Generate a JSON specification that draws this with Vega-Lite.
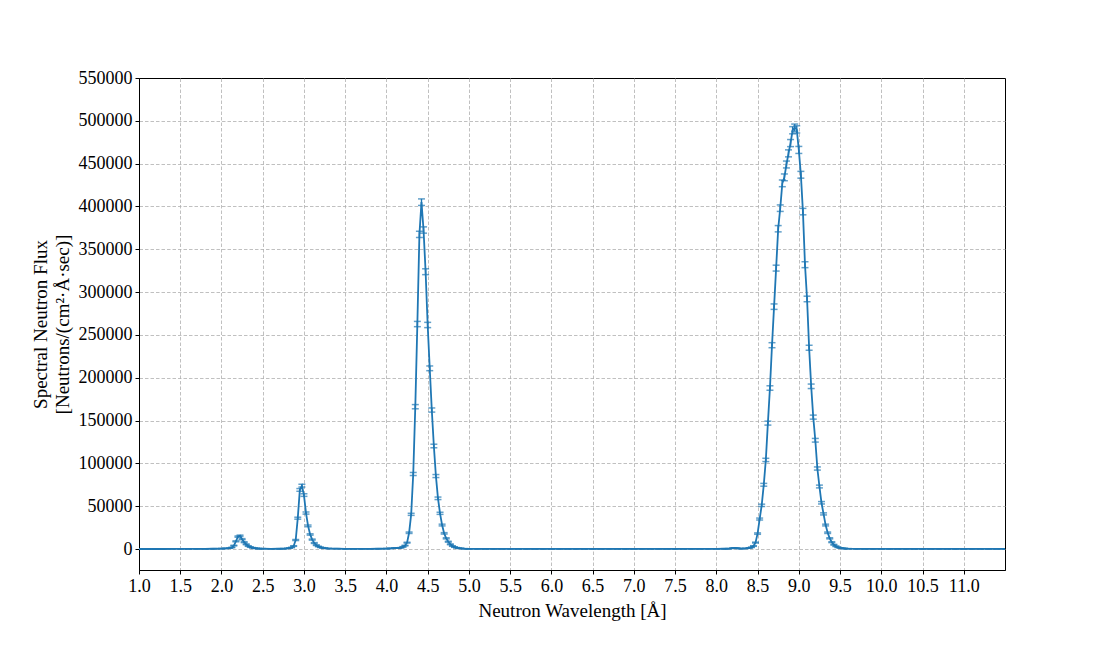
{
  "$schema": "https://vega.github.io/schema/vega-lite/v6.json",
  "width": 866,
  "height": 492,
  "autosize": "none",
  "padding": {"left": 139, "top": 78, "right": 113, "bottom": 82},
  "background": "white",
  "config": {
    "view": {"stroke": "black", "strokeWidth": 1},
    "font": "Liberation Serif",
    "axis": {
      "labelFont": "Liberation Serif",
      "titleFont": "Liberation Serif",
      "labelFontSize": 18,
      "titleFontSize": 19,
      "labelColor": "black",
      "titleColor": "black",
      "titleFontWeight": "normal",
      "tickColor": "black",
      "domainColor": "black",
      "tickSize": 4,
      "labelPadding": 3,
      "gridColor": "#b0b0b0",
      "gridDash": [3.5, 2],
      "gridWidth": 0.8
    }
  },
  "data": {
    "values": [
      {"wl": 1.0, "flux": 20, "err": 27},
      {"wl": 1.1, "flux": 30, "err": 33},
      {"wl": 1.2, "flux": 40, "err": 38},
      {"wl": 1.3, "flux": 50, "err": 42},
      {"wl": 1.4, "flux": 60, "err": 46},
      {"wl": 1.5, "flux": 80, "err": 54},
      {"wl": 1.6, "flux": 100, "err": 60},
      {"wl": 1.7, "flux": 150, "err": 73},
      {"wl": 1.8, "flux": 200, "err": 85},
      {"wl": 1.9, "flux": 300, "err": 104},
      {"wl": 2.0, "flux": 500, "err": 134},
      {"wl": 2.05, "flux": 700, "err": 159},
      {"wl": 2.1, "flux": 1000, "err": 190},
      {"wl": 2.125, "flux": 1800, "err": 255},
      {"wl": 2.15, "flux": 4000, "err": 379},
      {"wl": 2.175, "flux": 9000, "err": 569},
      {"wl": 2.2, "flux": 14500, "err": 723},
      {"wl": 2.225, "flux": 15500, "err": 747},
      {"wl": 2.25, "flux": 11500, "err": 643},
      {"wl": 2.275, "flux": 8000, "err": 537},
      {"wl": 2.3, "flux": 5500, "err": 445},
      {"wl": 2.325, "flux": 3500, "err": 355},
      {"wl": 2.35, "flux": 2300, "err": 288},
      {"wl": 2.375, "flux": 1500, "err": 232},
      {"wl": 2.4, "flux": 1000, "err": 190},
      {"wl": 2.425, "flux": 700, "err": 159},
      {"wl": 2.45, "flux": 500, "err": 134},
      {"wl": 2.5, "flux": 350, "err": 112},
      {"wl": 2.6, "flux": 250, "err": 95},
      {"wl": 2.7, "flux": 300, "err": 104},
      {"wl": 2.75, "flux": 400, "err": 120},
      {"wl": 2.8, "flux": 700, "err": 159},
      {"wl": 2.825, "flux": 1100, "err": 199},
      {"wl": 2.85, "flux": 1800, "err": 255},
      {"wl": 2.875, "flux": 3500, "err": 355},
      {"wl": 2.9, "flux": 10500, "err": 615},
      {"wl": 2.925, "flux": 36000, "err": 1138},
      {"wl": 2.95, "flux": 69000, "err": 1576},
      {"wl": 2.975, "flux": 74000, "err": 1632},
      {"wl": 3.0, "flux": 63000, "err": 1506},
      {"wl": 3.025, "flux": 42000, "err": 1230},
      {"wl": 3.05, "flux": 27000, "err": 986},
      {"wl": 3.075, "flux": 17000, "err": 782},
      {"wl": 3.1, "flux": 11000, "err": 629},
      {"wl": 3.125, "flux": 7000, "err": 502},
      {"wl": 3.15, "flux": 4500, "err": 402},
      {"wl": 3.175, "flux": 3000, "err": 329},
      {"wl": 3.2, "flux": 2000, "err": 268},
      {"wl": 3.225, "flux": 1400, "err": 224},
      {"wl": 3.25, "flux": 1000, "err": 190},
      {"wl": 3.3, "flux": 600, "err": 147},
      {"wl": 3.4, "flux": 350, "err": 112},
      {"wl": 3.5, "flux": 250, "err": 95},
      {"wl": 3.6, "flux": 200, "err": 85},
      {"wl": 3.7, "flux": 200, "err": 85},
      {"wl": 3.8, "flux": 250, "err": 95},
      {"wl": 3.9, "flux": 300, "err": 104},
      {"wl": 4.0, "flux": 500, "err": 134},
      {"wl": 4.05, "flux": 700, "err": 159},
      {"wl": 4.1, "flux": 1000, "err": 190},
      {"wl": 4.125, "flux": 1100, "err": 199},
      {"wl": 4.15, "flux": 1200, "err": 208},
      {"wl": 4.175, "flux": 1500, "err": 232},
      {"wl": 4.2, "flux": 2500, "err": 300},
      {"wl": 4.225, "flux": 4000, "err": 379},
      {"wl": 4.25, "flux": 7400, "err": 516},
      {"wl": 4.275, "flux": 19000, "err": 827},
      {"wl": 4.3, "flux": 40500, "err": 1207},
      {"wl": 4.325, "flux": 87600, "err": 1776},
      {"wl": 4.35, "flux": 166200, "err": 2446},
      {"wl": 4.375, "flux": 262700, "err": 3075},
      {"wl": 4.4, "flux": 367400, "err": 3637},
      {"wl": 4.425, "flux": 405000, "err": 3818},
      {"wl": 4.45, "flux": 372500, "err": 3662},
      {"wl": 4.475, "flux": 323800, "err": 3414},
      {"wl": 4.5, "flux": 261600, "err": 3069},
      {"wl": 4.525, "flux": 211000, "err": 2756},
      {"wl": 4.55, "flux": 162300, "err": 2417},
      {"wl": 4.575, "flux": 120300, "err": 2081},
      {"wl": 4.6, "flux": 85200, "err": 1751},
      {"wl": 4.625, "flux": 59200, "err": 1460},
      {"wl": 4.65, "flux": 41700, "err": 1225},
      {"wl": 4.675, "flux": 28000, "err": 1004},
      {"wl": 4.7, "flux": 18300, "err": 812},
      {"wl": 4.725, "flux": 12500, "err": 671},
      {"wl": 4.75, "flux": 8500, "err": 553},
      {"wl": 4.775, "flux": 5500, "err": 445},
      {"wl": 4.8, "flux": 3500, "err": 355},
      {"wl": 4.825, "flux": 2300, "err": 288},
      {"wl": 4.85, "flux": 1500, "err": 232},
      {"wl": 4.875, "flux": 1000, "err": 190},
      {"wl": 4.9, "flux": 700, "err": 159},
      {"wl": 4.95, "flux": 400, "err": 120},
      {"wl": 5.0, "flux": 250, "err": 95},
      {"wl": 5.1, "flux": 200, "err": 85},
      {"wl": 5.2, "flux": 150, "err": 73},
      {"wl": 5.3, "flux": 150, "err": 73},
      {"wl": 5.4, "flux": 100, "err": 60},
      {"wl": 5.5, "flux": 100, "err": 60},
      {"wl": 5.6, "flux": 100, "err": 60},
      {"wl": 5.7, "flux": 100, "err": 60},
      {"wl": 5.8, "flux": 100, "err": 60},
      {"wl": 5.9, "flux": 100, "err": 60},
      {"wl": 6.0, "flux": 100, "err": 60},
      {"wl": 6.1, "flux": 100, "err": 60},
      {"wl": 6.2, "flux": 100, "err": 60},
      {"wl": 6.3, "flux": 100, "err": 60},
      {"wl": 6.4, "flux": 100, "err": 60},
      {"wl": 6.5, "flux": 100, "err": 60},
      {"wl": 6.6, "flux": 100, "err": 60},
      {"wl": 6.7, "flux": 150, "err": 73},
      {"wl": 6.8, "flux": 150, "err": 73},
      {"wl": 6.9, "flux": 150, "err": 73},
      {"wl": 7.0, "flux": 150, "err": 73},
      {"wl": 7.1, "flux": 150, "err": 73},
      {"wl": 7.2, "flux": 150, "err": 73},
      {"wl": 7.3, "flux": 150, "err": 73},
      {"wl": 7.4, "flux": 150, "err": 73},
      {"wl": 7.5, "flux": 200, "err": 85},
      {"wl": 7.6, "flux": 200, "err": 85},
      {"wl": 7.7, "flux": 200, "err": 85},
      {"wl": 7.8, "flux": 200, "err": 85},
      {"wl": 7.9, "flux": 250, "err": 95},
      {"wl": 8.0, "flux": 250, "err": 95},
      {"wl": 8.1, "flux": 300, "err": 104},
      {"wl": 8.15, "flux": 400, "err": 120},
      {"wl": 8.2, "flux": 1000, "err": 190},
      {"wl": 8.225, "flux": 1200, "err": 208},
      {"wl": 8.25, "flux": 900, "err": 180},
      {"wl": 8.3, "flux": 500, "err": 134},
      {"wl": 8.35, "flux": 700, "err": 159},
      {"wl": 8.4, "flux": 1200, "err": 208},
      {"wl": 8.425, "flux": 2000, "err": 268},
      {"wl": 8.45, "flux": 3500, "err": 355},
      {"wl": 8.475, "flux": 7500, "err": 520},
      {"wl": 8.5, "flux": 18000, "err": 805},
      {"wl": 8.525, "flux": 35000, "err": 1122},
      {"wl": 8.55, "flux": 51000, "err": 1355},
      {"wl": 8.575, "flux": 75000, "err": 1643},
      {"wl": 8.6, "flux": 104000, "err": 1935},
      {"wl": 8.625, "flux": 147000, "err": 2300},
      {"wl": 8.65, "flux": 188000, "err": 2602},
      {"wl": 8.675, "flux": 238000, "err": 2927},
      {"wl": 8.7, "flux": 283000, "err": 3192},
      {"wl": 8.725, "flux": 328000, "err": 3436},
      {"wl": 8.75, "flux": 374000, "err": 3669},
      {"wl": 8.775, "flux": 398000, "err": 3785},
      {"wl": 8.8, "flux": 427000, "err": 3921},
      {"wl": 8.825, "flux": 434000, "err": 3953},
      {"wl": 8.85, "flux": 449000, "err": 4020},
      {"wl": 8.875, "flux": 462000, "err": 4078},
      {"wl": 8.9, "flux": 474000, "err": 4131},
      {"wl": 8.925, "flux": 489000, "err": 4196},
      {"wl": 8.95, "flux": 492000, "err": 4209},
      {"wl": 8.975, "flux": 490000, "err": 4200},
      {"wl": 9.0, "flux": 466000, "err": 4096},
      {"wl": 9.025, "flux": 437000, "err": 3966},
      {"wl": 9.05, "flux": 394000, "err": 3766},
      {"wl": 9.075, "flux": 332000, "err": 3457},
      {"wl": 9.1, "flux": 292000, "err": 3242},
      {"wl": 9.125, "flux": 235000, "err": 2909},
      {"wl": 9.15, "flux": 190000, "err": 2615},
      {"wl": 9.175, "flux": 154000, "err": 2355},
      {"wl": 9.2, "flux": 127000, "err": 2138},
      {"wl": 9.225, "flux": 94000, "err": 1840},
      {"wl": 9.25, "flux": 73000, "err": 1621},
      {"wl": 9.275, "flux": 54000, "err": 1394},
      {"wl": 9.3, "flux": 41000, "err": 1215},
      {"wl": 9.325, "flux": 28000, "err": 1004},
      {"wl": 9.35, "flux": 19000, "err": 827},
      {"wl": 9.375, "flux": 12500, "err": 671},
      {"wl": 9.4, "flux": 8000, "err": 537},
      {"wl": 9.425, "flux": 5000, "err": 424},
      {"wl": 9.45, "flux": 3200, "err": 339},
      {"wl": 9.475, "flux": 2000, "err": 268},
      {"wl": 9.5, "flux": 1300, "err": 216},
      {"wl": 9.525, "flux": 900, "err": 180},
      {"wl": 9.55, "flux": 600, "err": 147},
      {"wl": 9.6, "flux": 400, "err": 120},
      {"wl": 9.7, "flux": 250, "err": 95},
      {"wl": 9.8, "flux": 200, "err": 85},
      {"wl": 9.9, "flux": 150, "err": 73},
      {"wl": 10.0, "flux": 150, "err": 73},
      {"wl": 10.1, "flux": 100, "err": 60},
      {"wl": 10.2, "flux": 100, "err": 60},
      {"wl": 10.3, "flux": 100, "err": 60},
      {"wl": 10.4, "flux": 100, "err": 60},
      {"wl": 10.5, "flux": 100, "err": 60},
      {"wl": 10.6, "flux": 100, "err": 60},
      {"wl": 10.7, "flux": 100, "err": 60},
      {"wl": 10.8, "flux": 100, "err": 60},
      {"wl": 10.9, "flux": 100, "err": 60},
      {"wl": 11.0, "flux": 100, "err": 60},
      {"wl": 11.1, "flux": 100, "err": 60},
      {"wl": 11.2, "flux": 100, "err": 60},
      {"wl": 11.3, "flux": 100, "err": 60},
      {"wl": 11.4, "flux": 100, "err": 60},
      {"wl": 11.5, "flux": 100, "err": 60}
    ]
  },
  "encoding": {
    "x": {
      "field": "wl",
      "type": "quantitative",
      "title": "Neutron Wavelength [Å]",
      "scale": {"domain": [1.0, 11.5], "nice": false, "zero": false},
      "axis": {
        "values": [1.0, 1.5, 2.0, 2.5, 3.0, 3.5, 4.0, 4.5, 5.0, 5.5, 6.0, 6.5, 7.0, 7.5, 8.0, 8.5, 9.0, 9.5, 10.0, 10.5, 11.0],
        "format": ".1f",
        "labelFlush": false,
        "labelOverlap": false,
        "titlePadding": 6,
        "gridOpacity": {"condition": {"test": "datum.value == 1", "value": 0}, "value": 1}
      }
    },
    "y": {
      "field": "flux",
      "type": "quantitative",
      "title": ["Spectral Neutron Flux", "[Neutrons/(cm²·Å·sec)]"],
      "scale": {"domain": [-24500, 550000], "nice": false, "zero": false},
      "axis": {
        "values": [0, 50000, 100000, 150000, 200000, 250000, 300000, 350000, 400000, 450000, 500000, 550000],
        "format": "d",
        "labelOverlap": false,
        "titlePadding": 6,
        "titleLineHeight": 22,
        "gridOpacity": {"condition": {"test": "datum.value == 550000", "value": 0}, "value": 1}
      }
    }
  },
  "layer": [
    {
      "mark": {"type": "line", "color": "#1f77b4", "strokeWidth": 1.8, "clip": true}
    },
    {
      "mark": {
        "type": "errorbar",
        "color": "#1f77b4",
        "thickness": 1.4,
        "ticks": {"size": 7, "thickness": 1.5, "color": "#1f77b4"},
        "rule": {"color": "#1f77b4", "strokeWidth": 1.4},
        "clip": true
      },
      "encoding": {
        "yError": {"field": "err"}
      }
    }
  ]
}
